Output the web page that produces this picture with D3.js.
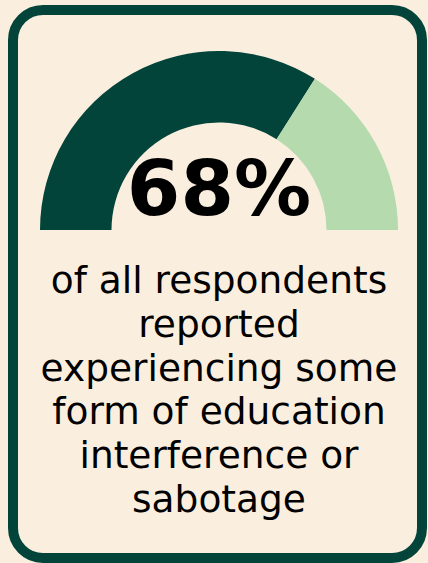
<!DOCTYPE html>
<html>
<head>
<meta charset="utf-8">
<script src="https://cdn.jsdelivr.net/npm/d3@7"></script>
<style>
  html, body { margin: 0; padding: 0; background: #faefdf; }
  svg { display: block; }
</style>
</head>
<body>
<script>
// chart data
var segments = ['Experienced interference', 'Did not'];
var shares = [68, 32];
var headline = '68%';
var captionLines = ['of all respondents', 'reported', 'experiencing some', 'form of education', 'interference or', 'sabotage'];

var W = 428, H = 563;
var bg = '#faefdf', dark = '#03443a', light = '#b4daae';

var svg = d3.select('body')
    .append('svg')
    .attr('width', W)
    .attr('height', H);

svg.append('rect')
    .attr('width', W)
    .attr('height', H)
    .style('fill', bg);

// the card outline
svg.append('rect')
    .attr('x', 13)
    .attr('y', 10)
    .attr('width', 409)
    .attr('height', 548)
    .attr('rx', 30)
    .attr('ry', 30)
    .style('fill', bg)
    .style('stroke', dark)
    .style('stroke-width', 10);

// half donut gauge
var cx = 219, cy = 230;
var pie = d3.pie().sort(null).startAngle(-Math.PI / 2).endAngle(Math.PI / 2);
var arc = d3.arc().innerRadius(107.5).outerRadius(179);
var colour = d3.scaleOrdinal().domain(segments).range([dark, light]);

var gauge = svg.append('g')
    .attr('transform', 'translate(' + cx + ',' + cy + ')');

gauge.selectAll('path')
    .data(pie(shares))
    .enter()
    .append('path')
    .attr('d', arc)
    .style('fill', function (d, i) { return colour(segments[i]); });

svg.append('text')
    .attr('x', cx)
    .attr('y', 215)
    .attr('text-anchor', 'middle')
    .style('font-family', '"DejaVu Sans", sans-serif')
    .style('font-weight', 'bold')
    .style('font-size', '77px')
    .style('fill', '#000')
    .text(headline);

// caption
svg.append('g')
    .selectAll('text')
    .data(captionLines)
    .enter()
    .append('text')
    .attr('x', cx)
    .attr('y', function (d, i) { return 293.3 + i * 43.7; })
    .attr('text-anchor', 'middle')
    .style('font-family', '"DejaVu Sans", sans-serif')
    .style('font-size', '37.5px')
    .style('fill', '#000')
    .text(function (d) { return d; });
</script>
</body>
</html>
